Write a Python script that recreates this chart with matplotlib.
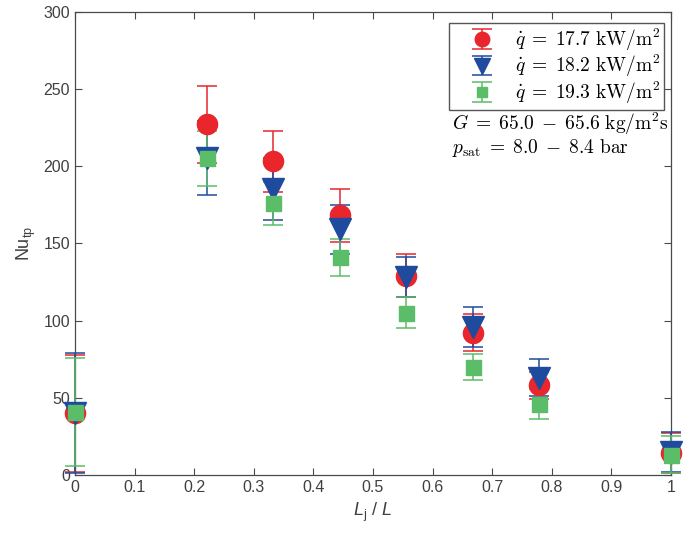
import matplotlib
matplotlib.use('Agg')
import matplotlib.pyplot as plt

plt.rcParams['mathtext.fontset'] = 'custom'
plt.rcParams['mathtext.rm'] = 'Liberation Sans'
plt.rcParams['mathtext.it'] = 'Liberation Sans:italic'
plt.rcParams['font.family'] = ['Liberation Sans', 'DejaVu Sans']

# data
pos = [0, 0.222, 0.333, 0.444, 0.556, 0.667, 0.778, 1.0]

nu_177 = [40, 227, 203, 168, 129, 92, 58, 14]
err_177 = [38, 25, 20, 17, 14, 12, 9, 13]
nu_182 = [40, 205, 185, 159, 128, 96, 63, 15]
err_182 = [39, 24, 20, 16, 13, 13, 12, 13]
nu_193 = [41, 205, 176, 141, 105, 70, 46, 13]
err_193 = [35, 18, 14, 12, 10, 8.5, 10, 12]

series_labels = [r'$\dot{q}\;=\;17.7\ \mathrm{kW/m^2}$',
                 r'$\dot{q}\;=\;18.2\ \mathrm{kW/m^2}$',
                 r'$\dot{q}\;=\;19.3\ \mathrm{kW/m^2}$']
xticks = [0, 0.1, 0.2, 0.3, 0.4, 0.5, 0.6, 0.7, 0.8, 0.9, 1]
xtick_labels = ['0', '0.1', '0.2', '0.3', '0.4', '0.5', '0.6', '0.7', '0.8', '0.9', '1']
yticks = [0, 50, 100, 150, 200, 250, 300]

red = '#e8262b'
blue = '#1f4b9e'
green = '#5bbd68'
axcol = '#4a4a4a'

fig = plt.figure(figsize=(6.85, 5.42), dpi=100)
ax = fig.add_axes([0.1095, 0.1236, 0.870, 0.855])

opts = dict(elinewidth=1.1, capsize=7.5, capthick=1.1, clip_on=False, zorder=3)
ax.errorbar(pos, nu_177, yerr=err_177, fmt='o', color=red, ms=14.5,
            label=series_labels[0], **opts)
ax.errorbar(pos, nu_182, yerr=err_182, fmt='v', color=blue, ms=15.5,
            label=series_labels[1], **opts)
ax.errorbar(pos, nu_193, yerr=err_193, fmt='s', color=green, ms=10.8,
            label=series_labels[2], **opts)

ax.set_xlim(0, 1)
ax.set_ylim(0, 300)
ax.set_xticks(xticks)
ax.set_xticklabels(xtick_labels)
ax.set_yticks(yticks)

ax.tick_params(direction='in', length=5, width=0.8, top=True, right=True,
               colors=axcol, labelsize=11.5, labelcolor='#404040')
for s in ax.spines.values():
    s.set_color(axcol)
    s.set_linewidth(0.9)

ax.set_xlabel(r'$L_\mathrm{j}\ /\ L$', fontsize=13, color='#404040')
ax.set_ylabel(r'$\mathrm{Nu}_\mathrm{tp}$', fontsize=13, color='#404040')

leg = ax.legend(loc='upper right', bbox_to_anchor=(0.988, 0.976),
                borderaxespad=0, fancybox=False, framealpha=1,
                edgecolor='#555555', fontsize=14, handletextpad=0.15,
                handlelength=3.0, markerscale=0.72,
                labelspacing=0.0, borderpad=0.2)
leg.get_frame().set_linewidth(1.0)
leg.set_zorder(5)
for t in leg.get_texts():
    t.set_math_fontfamily('cm')

ax.text(0.633, 0.757, r'$G\;=\;65.0\;-\;65.6\ \mathrm{kg/m^2s}$', transform=ax.transAxes,
        fontsize=14, va='center', ha='left', math_fontfamily='cm')
ax.text(0.633, 0.705, r'$p_\mathrm{sat}\;=\;8.0\;-\;8.4\ \mathrm{bar}$', transform=ax.transAxes,
        fontsize=14, va='center', ha='left', math_fontfamily='cm')

fig.savefig('out.png', dpi=100)
